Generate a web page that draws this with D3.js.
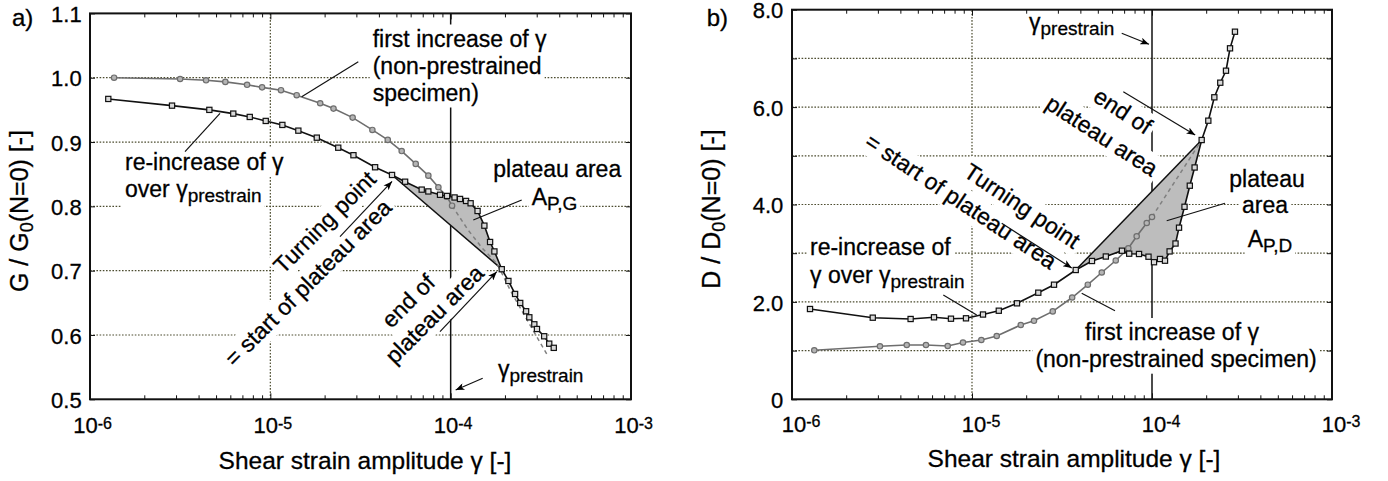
<!DOCTYPE html>
<html>
<head>
<meta charset="utf-8">
<script src="https://cdn.jsdelivr.net/npm/d3@7/dist/d3.min.js"></script>
<style>
  html, body { margin: 0; padding: 0; background: #fff; }
  svg { display: block; font-family: "Liberation Sans", Arial, Helvetica, sans-serif; }
  svg text { stroke: #000; stroke-width: 0.3px; }
</style>
</head>
<body>
<svg id="chart" width="1388" height="481"></svg>
<script>
// ---------- shared strain axis ----------
const strainDomain = [1e-6, 1e-3];
const strainDecades = [1e-6, 1e-5, 1e-4, 1e-3];
const strainDecadeExponents = ["-6", "-5", "-4", "-3"];
const strainPrestrain = 1e-4;

// ---------- (a) normalised shear modulus G / G0 ----------
const gTicks = [0.5, 0.6, 0.7, 0.8, 0.9, 1.0, 1.1];
const gGrid = [0.6, 0.7, 0.8, 0.9, 1.0];
// first increase of strain (non-prestrained specimen)
const gFirstStrain = [1.36e-6, 3.16e-6, 4.40e-6, 5.63e-6, 7.43e-6, 9.0e-6, 1.146e-5, 1.40e-5, 1.89e-5, 2.24e-5,
  2.86e-5, 3.68e-5, 4.48e-5, 5.35e-5, 6.40e-5, 7.52e-5, 8.55e-5, 9.52e-5, 1.018e-4];
const gFirstRatio = [1.000, 0.998, 0.996, 0.9935, 0.989, 0.985, 0.9806, 0.9728, 0.9603, 0.952,
  0.938, 0.9188, 0.9033, 0.886, 0.866, 0.8477, 0.8297, 0.8151, 0.801];
// re-increase of strain over the prestrain amplitude
const gReStrain = [1.263e-6, 2.85e-6, 4.59e-6, 6.23e-6, 7.69e-6, 9.43e-6, 1.166e-5, 1.43e-5, 1.81e-5, 2.38e-5,
  2.89e-5, 3.81e-5, 4.73e-5, 5.59e-5, 6.91e-5, 7.52e-5, 8.73e-5, 9.55e-5, 1.051e-4, 1.127e-4,
  1.217e-4, 1.29e-4, 1.41e-4, 1.538e-4, 1.654e-4, 1.748e-4, 1.92e-4, 2.09e-4, 2.276e-4, 2.43e-4,
  2.62e-4, 2.73e-4, 2.91e-4, 3.01e-4, 3.30e-4, 3.52e-4, 3.73e-4];
const gReRatio = [0.967, 0.9566, 0.950, 0.9442, 0.939, 0.9328, 0.9266, 0.9177, 0.9068, 0.8912,
  0.8795, 0.8608, 0.8488, 0.8383, 0.826, 0.8232, 0.818, 0.8162, 0.8138, 0.8115,
  0.8084, 0.8048, 0.7928, 0.770, 0.7446, 0.7299, 0.7023, 0.684, 0.6638, 0.6498,
  0.6369, 0.6275, 0.6166, 0.6093, 0.598, 0.5865, 0.580];
// continuation of the first-loading curve (dashed)
const gExtrapStrain = [1.018e-4, 1.249e-4, 1.494e-4, 1.81e-4, 2.136e-4, 2.53e-4, 3.00e-4, 3.48e-4];
const gExtrapRatio = [0.801, 0.7633, 0.7353, 0.7106, 0.670, 0.6337, 0.5974, 0.5663];
const gTurningIndex = 12;
const gPlateauEndIndex = 26;

// ---------- (b) normalised damping ratio D / D0 ----------
const dTicks = [0, 1, 2, 3, 4, 5, 6, 7, 8];
const dTickLabels = ["0", "", "2.0", "", "4.0", "", "6.0", "", "8.0"];
const dGrid = [1, 2, 3, 4, 5, 6, 7];
const dFirstStrain = [1.33e-6, 3.08e-6, 4.34e-6, 5.55e-6, 7.33e-6, 8.91e-6, 1.127e-5, 1.372e-5, 1.866e-5, 2.21e-5,
  2.81e-5, 3.60e-5, 4.40e-5, 5.26e-5, 6.29e-5, 7.39e-5, 8.22e-5, 9.35e-5, 1.0e-4];
const dFirstRatio = [1.006, 1.088, 1.115, 1.115, 1.094, 1.166, 1.218, 1.300, 1.526, 1.612,
  1.805, 2.090, 2.353, 2.604, 2.850, 3.101, 3.347, 3.620, 3.743];
const dReStrain = [1.259e-6, 2.81e-6, 4.56e-6, 6.15e-6, 7.64e-6, 9.26e-6, 1.151e-5, 1.409e-5, 1.778e-5, 2.335e-5,
  2.855e-5, 3.77e-5, 4.64e-5, 5.54e-5, 6.81e-5, 7.47e-5, 8.47e-5, 9.56e-5, 1.026e-4, 1.108e-4,
  1.181e-4, 1.253e-4, 1.351e-4, 1.413e-4, 1.516e-4, 1.622e-4, 1.725e-4, 1.888e-4, 2.055e-4, 2.22e-4,
  2.395e-4, 2.577e-4, 2.713e-4, 2.89e-4];
const dReRatio = [1.854, 1.676, 1.649, 1.684, 1.655, 1.663, 1.741, 1.819, 1.971, 2.189,
  2.353, 2.655, 2.840, 2.932, 3.051, 2.990, 2.984, 2.928, 2.815, 2.881,
  2.846, 3.037, 3.199, 3.524, 3.953, 4.386, 4.760, 5.324, 5.721, 6.201,
  6.501, 6.747, 7.207, 7.548];
const dExtrapStrain = [1.0e-4, 1.888e-4];
const dExtrapRatio = [3.743, 5.324];
const dTurningIndex = 11;
const dPlateauEndIndex = 27;

// ---------- drawing ----------
const svg = d3.select("#chart");
const INK = "#000";
const GREY = "#6e6e6e";
const GRID = "#4d4d30";
const TXT = 23, SUB = 19, SUB_DY = 5;

svg.append("defs").append("marker")
  .attr("id", "arrowHead").attr("viewBox", "0 0 10 8")
  .attr("refX", 10).attr("refY", 4)
  .attr("markerWidth", 10).attr("markerHeight", 7)
  .attr("markerUnits", "userSpaceOnUse").attr("orient", "auto")
  .append("path").attr("d", "M0,0L10,4L0,8L2.5,4Z").attr("fill", INK);

const minorTicks = [];
[-6, -5, -4].forEach(e => { for (let m = 2; m <= 9; m++) minorTicks.push(m * Math.pow(10, e)); });

function makePanel(o) {
  const x = d3.scaleLog().domain(strainDomain).range(o.xRange);
  const y = d3.scaleLinear().domain(o.yDomain).range(o.yRange);
  const [x0, x1] = o.xRange, [yB, yT] = o.yRange;
  const root = svg.append("g");
  const grid = root.append("g");
  const masks = root.append("g").attr("fill", "#fff");
  const area = root.append("g");
  const marks = root.append("g");
  const notes = root.append("g");
  const frame = root.append("g");

  grid.selectAll(null).data(o.grid).join("line")
    .attr("x1", x0).attr("x2", x1).attr("y1", d => y(d)).attr("y2", d => y(d))
    .attr("stroke", GRID).attr("stroke-width", 1.2).attr("stroke-dasharray", "1.6,1.6");
  grid.append("line")
    .attr("x1", x(1e-5)).attr("x2", x(1e-5)).attr("y1", yB).attr("y2", yT)
    .attr("stroke", GRID).attr("stroke-width", 1.2).attr("stroke-dasharray", "1.6,1.6");
  grid.append("line")
    .attr("x1", x(strainPrestrain)).attr("x2", x(strainPrestrain)).attr("y1", yB).attr("y2", yT)
    .attr("stroke", "#111").attr("stroke-width", 1.5);

  // axes: ticks pointing inwards on all four sides
  const styleAxis = g => {
    g.select(".domain").remove();
    g.selectAll(".tick line").attr("stroke", "#111").attr("stroke-width", 1);
    g.attr("font-family", null).attr("font-size", 22).attr("fill", null);
    g.selectAll("text").attr("fill", INK).attr("dy", "0.37em");
  };
  frame.append("g").attr("transform", `translate(${x0},0)`)
    .call(d3.axisLeft(y).tickValues(o.ticks).tickSize(-5).tickPadding(o.tickPad)
      .tickFormat((d, i) => o.tickLabels[i])).call(styleAxis);
  frame.append("g").attr("transform", `translate(${x1},0)`)
    .call(d3.axisRight(y).tickValues(o.ticks).tickSize(-5).tickFormat("")).call(styleAxis);
  [[d3.axisBottom, yB], [d3.axisTop, yT]].forEach(([ax, yy]) => {
    frame.append("g").attr("transform", `translate(0,${yy})`)
      .call(ax(x).tickValues(minorTicks).tickSize(-4).tickFormat("")).call(styleAxis);
    frame.append("g").attr("transform", `translate(0,${yy})`)
      .call(ax(x).tickValues(strainDecades).tickSize(-6).tickFormat("")).call(styleAxis);
  });
  frame.append("rect").attr("x", x0).attr("y", yT).attr("width", x1 - x0).attr("height", yB - yT)
    .attr("fill", "none").attr("stroke", "#111").attr("stroke-width", 2);

  // decade labels 10^n
  strainDecades.forEach((d, i) => {
    const t = frame.append("text").attr("x", x(d) + o.decadeShift).attr("y", o.decadeBaseline)
      .attr("text-anchor", "middle").attr("font-size", 22).attr("fill", INK);
    t.append("tspan").text("10");
    t.append("tspan").attr("font-size", 16).attr("dy", -4.5).text(strainDecadeExponents[i]);
  });

  // axis titles
  frame.append("text").attr("x", o.xTitle[0]).attr("y", o.xTitle[1]).attr("text-anchor", "middle")
    .attr("font-size", 24.5).attr("fill", INK).text("Shear strain amplitude γ [-]");
  const yt = frame.append("text").attr("transform", `translate(${o.yTitle[0]},${o.yTitle[1]}) rotate(-90)`)
    .attr("text-anchor", "middle").attr("font-size", 25).attr("fill", INK);
  yt.append("tspan").text(o.yName + " / " + o.yName);
  yt.append("tspan").attr("font-size", 18).attr("dy", 5).text("0");
  yt.append("tspan").attr("font-size", 25).attr("dy", -5).text("(N=0) [-]");
  frame.append("text").attr("x", o.panelTag[0]).attr("y", o.panelTag[1])
    .attr("font-size", 24).attr("fill", INK).text(o.tag);

  return { x, y, masks, area, marks, notes };
}

function drawSeries(p, s) {
  const line = d3.line().x(d => p.x(d[0])).y(d => p.y(d[1]));
  const first = d3.zip(s.firstStrain, s.firstRatio);
  const re = d3.zip(s.reStrain, s.reRatio);
  const ext = d3.zip(s.extStrain, s.extRatio);
  const plateau = re.slice(s.turn, s.end + 1);
  // plateau area between the re-loading curve and the chord turning point -> end point
  p.area.append("path").attr("d", line(plateau) + "Z").attr("fill", "#bdbdbd");
  p.area.append("path").attr("d", line([plateau[0], plateau[plateau.length - 1]]))
    .attr("stroke", "#111").attr("stroke-width", 1.5).attr("fill", "none");
  p.marks.append("path").attr("d", line(ext)).attr("fill", "none")
    .attr("stroke", "#808080").attr("stroke-width", 1.5).attr("stroke-dasharray", "4,3.5");
  p.marks.append("path").attr("d", line(first)).attr("fill", "none")
    .attr("stroke", GREY).attr("stroke-width", 1.6);
  p.marks.selectAll(null).data(first).join("circle")
    .attr("cx", d => p.x(d[0])).attr("cy", d => p.y(d[1])).attr("r", 2.7)
    .attr("fill", "#b5b5b5").attr("stroke", GREY).attr("stroke-width", 1.2);
  p.marks.append("path").attr("d", line(re)).attr("fill", "none")
    .attr("stroke", "#111").attr("stroke-width", 1.6);
  p.marks.selectAll(null).data(re).join("rect")
    .attr("x", d => p.x(d[0]) - 2.6).attr("y", d => p.y(d[1]) - 2.6)
    .attr("width", 5.2).attr("height", 5.2)
    .attr("fill", "#d9d9d9").attr("stroke", "#111").attr("stroke-width", 1.2);
  return { turn: plateau[0], end: plateau[plateau.length - 1] };
}

// text block with a white backing behind every line (interrupts grid lines)
function note(p, o) {
  const tr = `translate(${o.at[0]},${o.at[1]}) rotate(${o.rotate || 0})`;
  const g = p.notes.append("g").attr("transform", tr);
  const mg = p.masks.append("g").attr("transform", tr);
  const pad = o.pad == null ? 3 : o.pad;
  o.lines.forEach(l => {
    const t = g.append("text").attr("x", l.x || 0).attr("y", l.y || 0)
      .attr("text-anchor", o.anchor || "start").attr("font-size", TXT).attr("fill", INK);
    l.parts.forEach(([s, sub]) => {
      const ts = t.append("tspan").text(s);
      if (sub) ts.attr("font-size", SUB).attr("dy", SUB_DY);
    });
    const bb = t.node().getBBox();
    mg.append("rect").attr("x", bb.x - pad).attr("y", bb.y - pad + 2)
      .attr("width", bb.width + 2 * pad).attr("height", bb.height + 2 * pad - 3);
  });
}
function pointer(p, from, to, head) {
  const l = p.notes.append("line").attr("x1", from[0]).attr("y1", from[1]).attr("x2", to[0]).attr("y2", to[1])
    .attr("stroke", "#111").attr("stroke-width", 1.2);
  if (head) l.attr("marker-end", "url(#arrowHead)");
}

// ----- panel (a) -----
const pa = makePanel({
  xRange: [90, 631], yDomain: [0.5, 1.1], yRange: [399.3, 13.4],
  grid: gGrid, ticks: gTicks, tickLabels: gTicks.map(d3.format(".1f")), tickPad: 8.3,
  decadeShift: 2.5, decadeBaseline: 433.3, xTitle: [365, 469], yTitle: [28, 211],
  yName: "G", panelTag: [12, 26], tag: "a)"
});
const ka = drawSeries(pa, {
  firstStrain: gFirstStrain, firstRatio: gFirstRatio, reStrain: gReStrain, reRatio: gReRatio,
  extStrain: gExtrapStrain, extRatio: gExtrapRatio, turn: gTurningIndex, end: gPlateauEndIndex
});
note(pa, { at: [372.7, 46.5], lines: [
  { parts: [["first increase of γ"]] },
  { y: 27, parts: [["(non-prestrained"]] },
  { y: 54, parts: [["specimen)"]] }] });
pointer(pa, [358.3, 61.7], [301.7, 96.7]);
note(pa, { at: [125, 170], lines: [
  { parts: [["re-increase of γ"]] },
  { y: 27, parts: [["over γ"], ["prestrain", true]] }] });
pointer(pa, [185, 151.7], [220, 113.3]);
note(pa, { at: [493.3, 176.7], lines: [
  { parts: [["plateau area"]] },
  { x: 38.4, y: 28.3, parts: [["A"], ["P,G", true]] }] });
pointer(pa, [521.7, 200], [473.3, 220]);
note(pa, { at: [393, 209], rotate: -45, anchor: "end", lines: [
  { x: 9, y: -31, parts: [["Turning point"]] },
  { parts: [["= start of plateau area"]] }] });
pointer(pa, [340, 236.7], [pa.x(ka.turn[0]), pa.y(ka.turn[1]) + 6.5], true);
note(pa, { at: [440, 320], rotate: -45, anchor: "middle", lines: [
  { x: -9, y: -28, parts: [["end of"]] },
  { parts: [["plateau area"]] }] });
pointer(pa, [440, 331.7], [pa.x(ka.end[0]) - 5, pa.y(ka.end[1]) + 2.5], true);
note(pa, { at: [498, 377], lines: [{ parts: [["γ"], ["prestrain", true]] }] });
pointer(pa, [482.7, 378.3], [pa.x(strainPrestrain) + 5, 390], true);

// ----- panel (b) -----
const pb = makePanel({
  xRange: [792, 1332], yDomain: [0, 8], yRange: [399.3, 9.7],
  grid: dGrid, ticks: dTicks, tickLabels: dTickLabels, tickPad: 8.7,
  decadeShift: 9, decadeBaseline: 431.7, xTitle: [1074, 467], yTitle: [720, 209],
  yName: "D", panelTag: [706.7, 26], tag: "b)"
});
const kb = drawSeries(pb, {
  firstStrain: dFirstStrain, firstRatio: dFirstRatio, reStrain: dReStrain, reRatio: dReRatio,
  extStrain: dExtrapStrain, extRatio: dExtrapRatio, turn: dTurningIndex, end: dPlateauEndIndex
});
note(pb, { at: [1029, 30], lines: [{ parts: [["γ"], ["prestrain", true]] }] });
pointer(pb, [1121.7, 33.3], [pb.x(strainPrestrain) - 3, 44.3], true);
note(pb, { at: [1097.7, 142.4], rotate: 33, anchor: "middle", lines: [
  { x: 4, y: -32, parts: [["end of"]] },
  { parts: [["plateau area"]] }] });
pointer(pb, [1123.3, 91.7], [pb.x(kb.end[0]) - 6.5, pb.y(kb.end[1]) - 5], true);
note(pb, { at: [1267, 186.7], anchor: "middle", lines: [
  { parts: [["plateau"]] },
  { x: -2, y: 26.6, parts: [["area"]] },
  { x: 3, y: 60.3, parts: [["A"], ["P,D", true]] }] });
pointer(pb, [1225, 203.3], [1166.7, 220.7]);
note(pb, { at: [810, 255], lines: [
  { parts: [["re-increase of"]] },
  { y: 28.3, parts: [["γ over γ"], ["prestrain", true]] }] });
pointer(pb, [943.3, 295], [976.7, 315]);
note(pb, { at: [1175, 340], anchor: "middle", lines: [
  { x: -3, parts: [["first increase of γ"]] },
  { x: 1, y: 26.7, parts: [["(non-prestrained specimen)"]] }] });
pointer(pb, [1115, 310.7], [1081.7, 293.3]);
note(pb, { at: [1050, 270], rotate: 33.7, anchor: "end", lines: [
  { x: 8, y: -30, parts: [["Turning point"]] },
  { parts: [["= start of plateau area"]] }] });
pointer(pb, [1001.7, 223.3], [pb.x(kb.turn[0]) - 4, pb.y(kb.turn[1]) - 2], true);
</script>
</body>
</html>
